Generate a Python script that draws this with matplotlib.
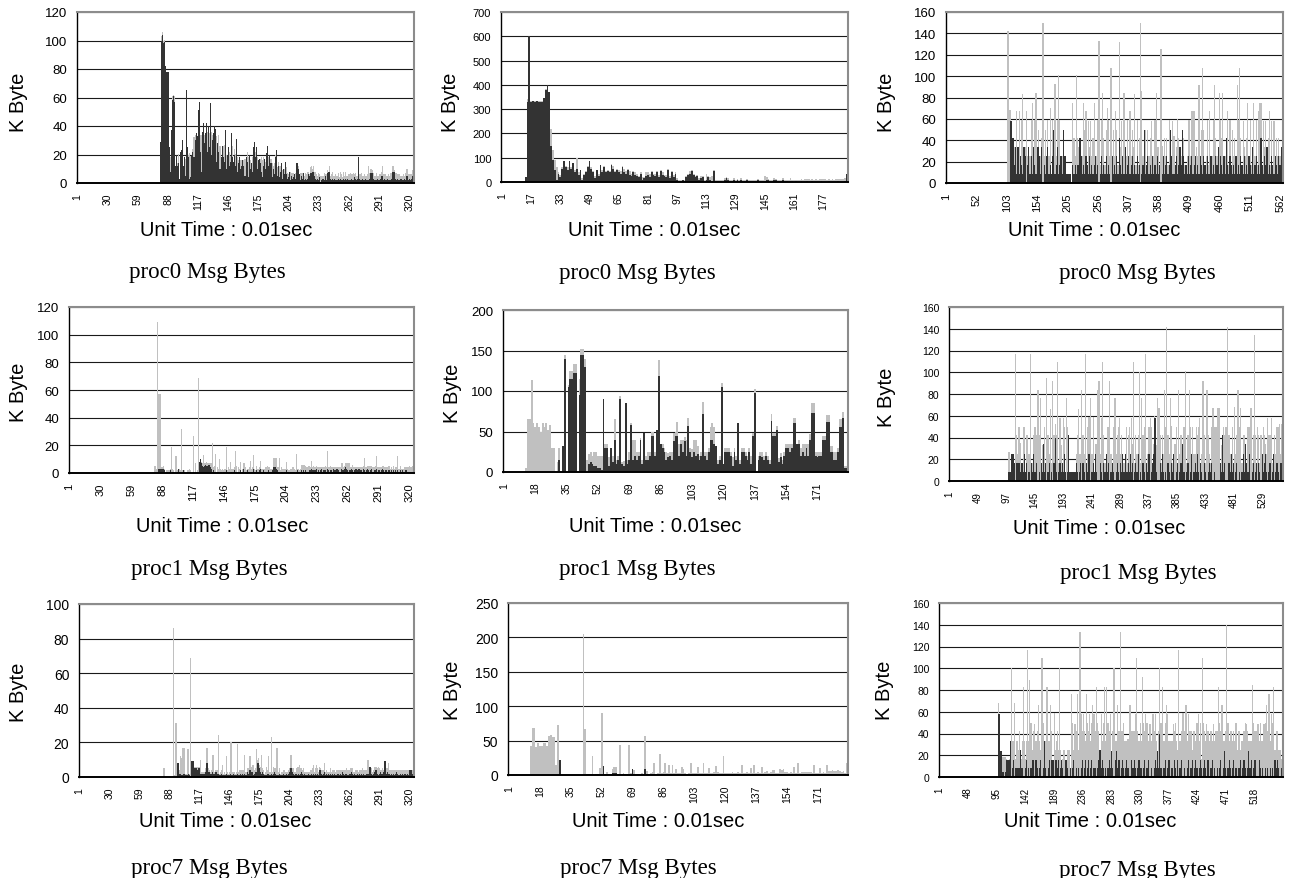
import matplotlib
matplotlib.use("Agg")
import matplotlib.pyplot as plt
import numpy as np

plt.rcParams["font.family"] = ["Liberation Sans", "DejaVu Sans"]

DARK = "#333333"
LIGHT = "#c0c0c0"

# Message bytes per 0.01 s slot.  Each run lists the first active slot and
# then the two stacked series from there on (everything before is zero).

# ---------------- proc0 ----------------
proc0_a_len, proc0_a_start = 324, 81
proc0_a_dark = [
    29, 100, 104, 98, 99, 82, 78, 78, 25, 8,
    37, 58, 61, 57, 12, 20, 12, 14, 3, 22,
    23, 30, 12, 18, 5, 65, 25, 18, 3, 4,
    20, 22, 18, 30, 35, 33, 51, 57, 22, 8,
    36, 42, 28, 35, 42, 22, 40, 25, 56, 20,
    30, 35, 40, 38, 15, 28, 22, 10, 18, 26,
    18, 15, 37, 10, 20, 25, 12, 15, 35, 18,
    15, 20, 12, 31, 8, 14, 18, 10, 12, 16,
    12, 5, 18, 15, 4, 20, 10, 14, 8, 25,
    29, 18, 25, 10, 16, 17, 14, 8, 4, 12,
    17, 10, 21, 26, 12, 20, 14, 4, 10, 6,
    18, 23, 5, 12, 4, 8, 14, 3, 10, 6,
    15, 6, 3, 4, 8, 2, 5, 3, 4, 6,
    3, 14, 10, 6, 2, 5, 3, 7, 2, 3,
    2, 3, 6, 5, 7, 7, 8, 8, 5, 3,
    2, 3, 2, 4, 1, 2, 3, 2, 5, 2,
    7, 8, 8, 3, 2, 3, 2, 3, 2, 2,
    2, 3, 2, 3, 2, 2, 3, 2, 3, 2,
    3, 2, 2, 3, 2, 2, 4, 3, 2, 3,
    18, 3, 2, 2, 3, 2, 2, 3, 2, 2,
    2, 3, 7, 7, 7, 3, 2, 2, 3, 2,
    2, 3, 5, 5, 2, 3, 2, 2, 3, 2,
    2, 2, 3, 8, 8, 8, 3, 2, 3, 2,
    2, 3, 2, 2, 3, 2, 5, 5, 2, 3,
    2, 3, 5, 5,
]
proc0_a_light = [
    0, 3, 2, 2, 1, 0, 0, 0, 0, 10,
    0, 3, 1, 4, 0, 0, 2, 6, 0, 0,
    0, 0, 0, 0, 12, 0, 0, 2, 18, 15,
    0, 2, 14, 4, 0, 0, 0, 0, 12, 26,
    0, 0, 6, 0, 0, 14, 0, 10, 0, 16,
    4, 0, 0, 0, 18, 0, 12, 16, 0, 0,
    8, 12, 0, 10, 0, 0, 10, 4, 0, 8,
    0, 4, 8, 0, 10, 2, 0, 6, 4, 0,
    4, 12, 0, 7, 14, 0, 6, 0, 10, 0,
    0, 4, 0, 8, 0, 0, 3, 10, 12, 6,
    0, 5, 0, 0, 6, 0, 3, 10, 2, 8,
    2, 0, 6, 3, 8, 4, 0, 6, 0, 4,
    0, 5, 4, 2, 0, 6, 2, 4, 3, 0,
    4, 0, 2, 0, 5, 2, 4, 0, 3, 4,
    4, 5, 2, 1, 4, 5, 2, 4, 3, 5,
    4, 2, 5, 2, 4, 3, 2, 5, 1, 4,
    2, 0, 4, 2, 4, 5, 3, 2, 4, 3,
    3, 4, 2, 5, 4, 2, 5, 3, 5, 3,
    2, 4, 5, 3, 4, 5, 2, 4, 3, 2,
    0, 3, 4, 5, 2, 3, 4, 2, 3, 4,
    10, 4, 3, 3, 2, 4, 3, 5, 2, 3,
    4, 3, 3, 7, 4, 3, 4, 3, 2, 4,
    3, 5, 4, 4, 4, 1, 4, 5, 3, 4,
    4, 2, 3, 4, 2, 5, 5, 5, 4, 3,
    4, 3, 4, 4,
]

proc0_b_len, proc0_b_start = 190, 14
proc0_b_dark = [
    20, 330, 600, 330, 335, 330, 335, 330, 330, 330,
    345, 380, 400, 370, 150, 90, 50, 10, 35, 20,
    55, 85, 60, 50, 85, 55, 78, 40, 55, 30,
    50, 10, 30, 40, 60, 85, 55, 40, 15, 50,
    25, 70, 40, 60, 40, 45, 40, 70, 55, 40,
    50, 40, 35, 60, 40, 35, 50, 30, 25, 40,
    30, 25, 20, 35, 10, 15, 25, 30, 20, 40,
    30, 25, 40, 20, 45, 30, 25, 20, 50, 15,
    40, 20, 35, 10, 5, 5, 8, 5, 20, 30,
    35, 45, 30, 20, 25, 10, 15, 20, 5, 10,
    20, 10, 5, 45, 5, 3, 5, 3, 2, 10,
    15, 10, 5, 5, 10, 5, 8, 5, 10, 5,
    5, 8, 5, 5, 3, 5, 3, 8, 5, 3,
    3, 5, 10, 8, 5, 5, 10, 8, 5, 3,
    5, 10, 3, 3, 2, 5, 3, 2, 3, 2,
    2, 3, 2, 2, 3, 2, 2, 3, 2, 2,
    2, 2, 3, 2, 2, 2, 3, 2, 2, 2,
    2, 3, 2, 2, 2, 3, 35,
]
proc0_b_light = [
    0, 10, 0, 5, 0, 5, 0, 5, 5, 5,
    0, 5, 0, 0, 70, 40, 40, 50, 5, 10,
    5, 0, 5, 10, 0, 5, 2, 10, 45, 10,
    0, 5, 5, 5, 5, 0, 5, 5, 10, 0,
    10, 0, 10, 5, 5, 5, 5, 5, 10, 5,
    5, 10, 10, 5, 15, 10, 5, 15, 10, 5,
    10, 10, 5, 5, 10, 5, 15, 10, 15, 5,
    5, 10, 5, 10, 5, 10, 5, 10, 5, 10,
    5, 10, 5, 5, 5, 5, 2, 5, 5, 5,
    10, 5, 5, 5, 5, 5, 10, 5, 5, 25,
    5, 10, 20, 5, 5, 5, 3, 5, 5, 5,
    5, 5, 5, 5, 5, 5, 5, 5, 5, 5,
    5, 5, 5, 5, 5, 5, 5, 5, 5, 5,
    5, 20, 10, 5, 5, 5, 5, 5, 5, 5,
    5, 5, 5, 5, 5, 10, 5, 5, 5, 5,
    8, 10, 8, 10, 8, 10, 8, 10, 8, 10,
    8, 10, 8, 10, 10, 8, 10, 8, 10, 8,
    10, 8, 10, 12, 10, 12, 0,
]

proc0_c_len, proc0_c_start = 566, 103
proc0_c_dark = [
    0, 0, 0, 0, 0, 58, 58, 58, 58, 42, 42, 42, 17, 17, 34, 34, 8, 8, 34, 34,
    8, 8, 25, 25, 17, 17, 8, 8, 34, 34, 25, 25, 0, 0, 17, 17, 34, 34, 8, 8,
    25, 25, 8, 8, 34, 34, 17, 17, 8, 8, 34, 34, 34, 34, 25, 25, 8, 8, 34, 34,
    0, 0, 17, 17, 8, 8, 25, 25, 34, 34, 8, 8, 17, 17, 8, 8, 25, 25, 50, 50,
    8, 8, 17, 17, 34, 34, 8, 8, 17, 17, 25, 25, 8, 8, 50, 50, 25, 25, 25, 25,
    8, 8, 8, 8, 8, 8, 8, 8, 0, 0, 17, 17, 8, 8, 17, 17, 8, 8, 17, 17,
    17, 17, 42, 42, 25, 25, 8, 8, 17, 17, 8, 8, 25, 25, 17, 17, 8, 8, 25, 25,
    8, 8, 17, 17, 8, 8, 17, 17, 25, 25, 8, 8, 17, 17, 0, 0, 8, 8, 25, 25,
    8, 8, 17, 17, 8, 8, 25, 25, 8, 8, 17, 17, 8, 8, 0, 0, 25, 25, 8, 8,
    17, 17, 8, 8, 25, 25, 8, 8, 42, 42, 17, 17, 8, 8, 25, 25, 8, 8, 34, 34,
    8, 8, 17, 17, 25, 25, 8, 8, 17, 17, 25, 25, 8, 8, 17, 17, 8, 8, 25, 25,
    8, 8, 17, 17, 0, 0, 8, 8, 17, 17, 50, 50, 8, 8, 17, 17, 25, 25, 8, 8,
    17, 17, 8, 8, 25, 25, 8, 8, 17, 17, 8, 8, 25, 25, 8, 8, 17, 17, 0, 0,
    8, 8, 25, 25, 8, 8, 17, 17, 25, 25, 8, 8, 17, 17, 50, 50, 25, 25, 8, 8,
    8, 8, 17, 17, 25, 25, 8, 8, 17, 17, 34, 34, 17, 17, 50, 50, 25, 25, 8, 8,
    17, 17, 8, 8, 25, 25, 8, 8, 17, 17, 25, 25, 8, 8, 17, 17, 25, 25, 8, 8,
    17, 17, 8, 8, 25, 25, 17, 17, 8, 8, 25, 25, 17, 17, 8, 8, 25, 25, 8, 8,
    8, 8, 25, 25, 8, 8, 17, 17, 8, 8, 25, 25, 17, 17, 34, 34, 8, 8, 25, 25,
    17, 17, 8, 8, 25, 25, 8, 8, 42, 42, 17, 17, 8, 8, 25, 25, 17, 17, 8, 8,
    17, 17, 8, 8, 25, 25, 8, 8, 17, 17, 8, 8, 25, 25, 17, 17, 8, 8, 25, 25,
    8, 8, 17, 17, 8, 8, 25, 25, 17, 17, 8, 8, 34, 34, 8, 8, 17, 17, 25, 25,
    8, 8, 17, 17, 8, 8, 42, 42, 17, 17, 8, 8, 25, 25, 17, 17, 34, 34, 8, 8,
    17, 17, 8, 8, 25, 25, 17, 17, 8, 8, 25, 25, 17, 17, 8, 8, 25, 25, 17, 17,
    34, 34, 25, 25,
]
proc0_c_light = [
    142, 142, 142, 142, 68, 10, 10, 0, 0, 0, 0, 0, 17, 17, 0, 0, 59, 59, 0, 0,
    59, 59, 0, 0, 42, 42, 75, 75, 0, 0, 9, 9, 67, 67, 8, 8, 0, 0, 17, 17,
    34, 34, 67, 67, 0, 0, 42, 42, 76, 76, 0, 0, 16, 16, 0, 0, 17, 17, 8, 8,
    150, 150, 8, 8, 42, 42, 0, 0, 25, 25, 17, 17, 53, 53, 0, 0, 34, 34, 0, 0,
    85, 85, 8, 8, 25, 25, 93, 93, 42, 42, 0, 0, 17, 17, 0, 0, 0, 0, 0, 0,
    0, 0, 0, 0, 0, 0, 0, 0, 0, 0, 58, 58, 34, 34, 8, 8, 93, 93, 25, 25,
    17, 17, 0, 0, 0, 0, 17, 17, 58, 58, 42, 42, 42, 42, 0, 0, 50, 50, 9, 9,
    50, 50, 8, 8, 34, 34, 58, 58, 0, 0, 17, 17, 42, 42, 133, 133, 9, 9, 34, 34,
    76, 76, 25, 25, 9, 9, 25, 25, 62, 62, 42, 42, 17, 17, 108, 108, 0, 0, 42, 42,
    8, 8, 59, 59, 25, 25, 9, 9, 90, 90, 17, 17, 50, 50, 0, 0, 76, 76, 0, 0,
    17, 17, 42, 42, 0, 0, 59, 59, 8, 8, 25, 25, 26, 26, 66, 66, 9, 9, 34, 34,
    9, 9, 25, 25, 150, 150, 78, 78, 8, 8, 0, 0, 42, 42, 0, 0, 25, 25, 17, 17,
    25, 25, 50, 50, 0, 0, 17, 17, 42, 42, 76, 76, 9, 9, 26, 26, 0, 0, 125, 125,
    27, 27, 0, 0, 34, 34, 8, 8, 17, 17, 9, 9, 42, 42, 0, 0, 0, 0, 50, 50,
    36, 36, 0, 0, 9, 9, 52, 52, 25, 25, 0, 0, 8, 8, 0, 0, 17, 17, 9, 9,
    0, 0, 17, 17, 34, 34, 51, 51, 8, 8, 42, 42, 59, 59, 50, 50, 0, 0, 26, 26,
    8, 8, 84, 84, 0, 0, 33, 33, 100, 100, 25, 25, 0, 0, 17, 17, 34, 34, 9, 9,
    59, 59, 0, 0, 17, 17, 42, 42, 84, 84, 17, 17, 8, 8, 0, 0, 76, 76, 34, 34,
    25, 25, 76, 76, 0, 0, 17, 17, 0, 0, 50, 50, 9, 9, 34, 34, 0, 0, 42, 42,
    8, 8, 34, 34, 0, 0, 84, 84, 42, 42, 100, 100, 17, 17, 0, 0, 50, 50, 9, 9,
    17, 17, 25, 25, 67, 67, 0, 0, 42, 42, 9, 9, 0, 0, 67, 67, 8, 8, 34, 34,
    9, 9, 50, 50, 67, 67, 33, 33, 0, 0, 50, 50, 9, 9, 41, 41, 0, 0, 34, 34,
    50, 50, 9, 9, 33, 33, 0, 0, 50, 50, 0, 0, 25, 25, 17, 17, 17, 17, 8, 8,
    0, 0, 25, 25,
]

# ---------------- proc1 ----------------
proc1_a_len, proc1_a_start = 324, 81
proc1_a_dark = [
    0, 0, 0, 0, 3, 3, 3, 3, 3, 2,
    0, 1, 1, 0, 1, 2, 0, 1, 1, 0,
    0, 1, 3, 1, 1, 0, 1, 2, 1, 0,
    0, 1, 1, 1, 1, 0, 1, 0, 1, 0,
    1, 0, 8, 10, 7, 5, 4, 5, 6, 5,
    5, 6, 4, 3, 1, 2, 1, 1, 0, 1,
    1, 0, 1, 1, 0, 1, 1, 2, 1, 0,
    1, 0, 1, 0, 1, 2, 1, 1, 0, 1,
    1, 2, 1, 3, 0, 1, 0, 2, 1, 1,
    0, 1, 1, 3, 1, 1, 2, 1, 2, 3,
    1, 0, 2, 1, 1, 0, 1, 2, 1, 1,
    1, 2, 4, 4, 3, 2, 1, 1, 0, 1,
    1, 0, 1, 1, 2, 1, 1, 0, 1, 1,
    1, 1, 0, 1, 2, 1, 1, 1, 2, 1,
    2, 1, 2, 1, 1, 2, 2, 3, 2, 2,
    2, 2, 3, 1, 2, 1, 2, 3, 1, 2,
    2, 1, 3, 2, 1, 2, 2, 1, 3, 2,
    2, 3, 3, 2, 1, 3, 2, 2, 3, 4,
    3, 2, 1, 2, 2, 3, 2, 1, 2, 3,
    2, 3, 3, 2, 2, 1, 3, 2, 1, 2,
    3, 2, 1, 2, 3, 1, 2, 2, 3, 1,
    2, 2, 1, 2, 3, 2, 1, 2, 2, 1,
    2, 1, 2, 1, 2, 1, 2, 1, 2, 1,
    1, 2, 1, 2, 1, 1, 2, 1, 1, 1,
    1, 1, 1, 1,
]
proc1_a_light = [
    5, 5, 3, 109, 54, 54, 1, 1, 2, 1,
    1, 1, 1, 2, 1, 1, 19, 2, 1, 1,
    12, 1, 0, 2, 1, 32, 1, 0, 1, 1,
    1, 1, 1, 2, 1, 1, 26, 1, 6, 1,
    1, 69, 0, 0, 1, 2, 9, 2, 1, 3,
    2, 1, 3, 4, 21, 2, 4, 13, 1, 3,
    2, 10, 2, 1, 3, 1, 2, 17, 1, 4,
    2, 8, 2, 3, 2, 2, 15, 4, 1, 3,
    2, 6, 2, 4, 7, 3, 2, 1, 2, 3,
    9, 2, 3, 10, 2, 1, 3, 2, 2, 6,
    2, 3, 1, 2, 3, 4, 4, 2, 3, 2,
    2, 1, 7, 7, 8, 2, 3, 10, 2, 3,
    2, 3, 2, 2, 6, 2, 1, 2, 2, 3,
    3, 2, 2, 13, 1, 2, 1, 2, 4, 5,
    4, 5, 3, 3, 4, 3, 2, 6, 2, 3,
    2, 2, 2, 3, 2, 3, 2, 1, 3, 2,
    3, 3, 13, 2, 3, 3, 2, 3, 1, 2,
    2, 1, 1, 2, 3, 4, 5, 2, 2, 3,
    4, 5, 6, 5, 2, 1, 4, 3, 2, 1,
    2, 1, 1, 2, 2, 3, 2, 9, 3, 2,
    2, 3, 4, 3, 2, 3, 2, 3, 9, 3,
    2, 2, 3, 2, 2, 3, 3, 2, 2, 3,
    3, 2, 2, 2, 3, 2, 2, 3, 10, 2,
    2, 3, 2, 1, 2, 3, 2, 3, 3, 4,
    3, 3, 4, 4,
]

proc1_b_len, proc1_b_start = 187, 13
proc1_b_dark = [
    0, 0, 0, 0, 0, 0, 0, 0, 0, 0,
    0, 0, 0, 0, 0, 0, 0, 0, 15, 0,
    32, 140, 0, 105, 115, 115, 122, 122, 0, 95,
    145, 145, 130, 0, 10, 12, 10, 8, 8, 5,
    5, 3, 90, 30, 30, 8, 30, 12, 40, 10,
    15, 90, 10, 8, 85, 10, 15, 58, 15, 20,
    15, 20, 40, 10, 48, 15, 15, 20, 45, 45,
    20, 52, 118, 35, 30, 25, 15, 18, 20, 15,
    38, 45, 45, 20, 35, 25, 38, 20, 57, 25,
    18, 25, 20, 22, 15, 20, 72, 20, 15, 25,
    40, 40, 35, 32, 10, 15, 105, 10, 25, 25,
    25, 20, 8, 25, 15, 60, 10, 25, 25, 20,
    15, 25, 10, 45, 97, 0, 15, 20, 18, 15,
    20, 15, 10, 63, 45, 45, 52, 12, 18, 10,
    20, 30, 30, 25, 30, 60, 60, 35, 35, 20,
    25, 20, 30, 20, 40, 73, 73, 20, 18, 20,
    20, 40, 40, 62, 62, 25, 25, 15, 15, 25,
    55, 55, 67, 5, 5,
]
proc1_b_light = [
    5, 66, 66, 113, 60, 55, 60, 55, 50, 60,
    55, 60, 52, 58, 30, 30, 0, 12, 15, 0,
    0, 5, 0, 3, 10, 10, 11, 11, 0, 20,
    7, 7, 10, 15, 12, 13, 10, 17, 17, 15,
    15, 17, 0, 5, 5, 10, 0, 8, 25, 5,
    5, 4, 2, 5, 0, 5, 10, 2, 25, 20,
    10, 5, 2, 5, 0, 5, 10, 5, 5, 5,
    5, 0, 20, 0, 5, 5, 10, 5, 5, 10,
    10, 5, 17, 15, 5, 15, 5, 20, 10, 5,
    10, 15, 20, 10, 5, 5, 14, 5, 10, 5,
    15, 20, 20, 0, 5, 5, 5, 0, 5, 5,
    5, 5, 10, 5, 5, 0, 5, 5, 5, 5,
    5, 5, 10, 3, 6, 0, 5, 5, 7, 5,
    5, 5, 5, 8, 3, 3, 5, 5, 5, 5,
    5, 5, 5, 10, 5, 7, 7, 0, 5, 10,
    10, 15, 5, 15, 7, 12, 12, 5, 7, 5,
    5, 5, 5, 8, 8, 7, 7, 10, 10, 5,
    10, 10, 7, 3, 3,
]

proc1_c_len, proc1_c_start = 563, 101
proc1_c_dark = [
    8, 8, 8, 8, 25, 25, 25, 25, 25, 17, 17, 0, 0, 17, 17, 17, 17, 17, 17, 8,
    8, 8, 17, 17, 8, 8, 25, 25, 8, 8, 17, 17, 0, 0, 8, 8, 17, 0, 0, 17,
    8, 8, 25, 25, 8, 8, 17, 17, 8, 0, 0, 8, 8, 0, 0, 17, 17, 8, 34, 34,
    8, 8, 17, 17, 0, 0, 8, 8, 17, 17, 0, 0, 8, 8, 0, 0, 17, 17, 40, 40,
    8, 8, 0, 0, 8, 8, 17, 17, 8, 8, 17, 17, 8, 8, 25, 25, 8, 0, 0, 8,
    42, 42, 17, 8, 8, 8, 8, 8, 8, 8, 8, 8, 8, 8, 17, 17, 8, 0, 0, 8,
    17, 17, 8, 0, 0, 17, 17, 8, 8, 0, 0, 17, 17, 8, 8, 25, 25, 0, 0, 17,
    8, 8, 17, 17, 8, 8, 25, 25, 8, 0, 0, 8, 0, 0, 17, 17, 8, 8, 0, 0,
    17, 17, 8, 8, 25, 25, 8, 8, 17, 17, 0, 0, 8, 8, 17, 17, 8, 8, 0, 0,
    0, 8, 8, 17, 17, 8, 0, 0, 17, 17, 8, 8, 25, 25, 8, 8, 17, 25, 25, 8,
    8, 17, 17, 8, 8, 25, 25, 8, 8, 17, 0, 0, 8, 8, 17, 17, 8, 8, 25, 25,
    0, 0, 8, 8, 0, 0, 17, 17, 8, 8, 0, 0, 17, 17, 8, 8, 25, 25, 0, 0,
    8, 8, 17, 17, 25, 58, 58, 58, 58, 8, 0, 0, 8, 0, 0, 17, 17, 8, 8, 25,
    8, 8, 0, 0, 8, 0, 0, 0, 17, 17, 8, 8, 0, 0, 17, 17, 8, 8, 25, 25,
    0, 0, 8, 8, 17, 17, 0, 0, 8, 8, 17, 17, 8, 34, 34, 8, 8, 0, 0, 17,
    8, 8, 17, 17, 0, 0, 8, 8, 25, 25, 0, 0, 8, 8, 17, 17, 8, 8, 25, 25,
    8, 0, 0, 17, 17, 8, 8, 0, 0, 17, 17, 8, 8, 25, 0, 0, 8, 8, 17, 17,
    8, 8, 17, 17, 0, 0, 8, 8, 17, 0, 0, 8, 0, 0, 0, 0, 17, 17, 8, 8,
    42, 42, 8, 8, 17, 17, 0, 0, 8, 0, 0, 17, 17, 8, 8, 25, 25, 8, 8, 17,
    0, 0, 8, 8, 17, 17, 0, 0, 8, 8, 17, 0, 0, 8, 8, 25, 25, 8, 8, 34,
    34, 17, 17, 8, 8, 25, 25, 8, 0, 0, 8, 8, 17, 17, 0, 0, 8, 8, 17, 0,
    0, 17, 17, 8, 8, 0, 0, 25, 25, 8, 8, 17, 17, 25, 25, 8, 0, 0, 8, 8,
    17, 17, 0, 0, 8, 8, 25, 25, 0, 0, 8, 8, 17, 17, 8, 8, 0, 0, 17, 17,
    17, 17, 8,
]
proc1_c_light = [
    19, 19, 0, 0, 0, 0, 0, 0, 0, 0, 0, 117, 117, 25, 25, 8, 8, 33, 33, 34,
    27, 27, 0, 0, 42, 42, 25, 25, 0, 0, 25, 25, 42, 42, 17, 17, 34, 117, 117, 0,
    9, 9, 17, 17, 42, 42, 25, 25, 17, 84, 84, 34, 34, 76, 76, 0, 0, 25, 0, 0,
    42, 42, 0, 0, 95, 95, 34, 34, 8, 8, 66, 66, 9, 9, 92, 92, 25, 25, 12, 12,
    34, 34, 109, 109, 9, 9, 41, 41, 25, 25, 0, 0, 50, 50, 25, 25, 0, 76, 76, 42,
    0, 0, 0, 0, 0, 0, 0, 0, 0, 0, 0, 0, 0, 0, 8, 8, 34, 66, 66, 17,
    8, 8, 42, 84, 84, 25, 25, 17, 17, 117, 117, 0, 0, 42, 42, 34, 34, 76, 76, 25,
    17, 17, 42, 42, 0, 0, 9, 9, 26, 84, 84, 17, 92, 92, 8, 8, 50, 50, 109, 109,
    25, 25, 9, 9, 0, 0, 42, 42, 33, 33, 92, 92, 17, 17, 0, 0, 42, 42, 76, 76,
    76, 17, 17, 25, 25, 42, 58, 58, 8, 8, 34, 34, 0, 0, 9, 9, 25, 0, 0, 42,
    9, 25, 25, 42, 42, 0, 0, 50, 50, 17, 109, 109, 9, 9, 25, 25, 17, 17, 17, 17,
    100, 100, 9, 9, 76, 76, 25, 25, 42, 42, 117, 117, 0, 0, 17, 17, 25, 25, 58, 58,
    42, 42, 0, 0, 9, 2, 2, 0, 0, 25, 76, 76, 9, 67, 67, 25, 25, 9, 9, 17,
    17, 17, 84, 84, 42, 142, 142, 92, 25, 25, 17, 17, 76, 76, 34, 34, 9, 9, 0, 0,
    34, 34, 42, 42, 0, 0, 84, 84, 17, 17, 25, 25, 9, 0, 0, 42, 42, 101, 101, 25,
    9, 9, 25, 25, 84, 84, 42, 42, 0, 0, 50, 50, 17, 17, 8, 8, 42, 42, 17, 17,
    42, 58, 58, 0, 0, 17, 17, 92, 92, 25, 25, 9, 9, 25, 84, 84, 34, 34, 8, 8,
    9, 9, 33, 33, 67, 67, 42, 42, 8, 50, 50, 17, 67, 67, 67, 67, 0, 0, 25, 25,
    0, 0, 42, 42, 25, 25, 50, 50, 9, 142, 142, 25, 25, 17, 17, 0, 0, 42, 42, 0,
    68, 68, 17, 17, 25, 25, 84, 84, 42, 42, 0, 67, 67, 9, 9, 17, 17, 34, 34, 0,
    0, 0, 0, 42, 42, 25, 25, 17, 67, 67, 9, 9, 25, 25, 134, 134, 34, 34, 0, 50,
    50, 25, 25, 9, 9, 42, 42, 0, 0, 42, 42, 25, 25, 9, 9, 17, 58, 58, 34, 34,
    25, 25, 58, 58, 9, 9, 0, 0, 42, 42, 17, 17, 33, 33, 42, 42, 52, 52, 8, 8,
    35, 35, 70,
]

# ---------------- proc7 ----------------
proc7_a_len, proc7_a_start = 324, 81
proc7_a_dark = [
    0, 0, 0, 0, 0, 0, 0, 0, 0, 0,
    0, 0, 0, 0, 0, 8, 8, 2, 2, 1,
    1, 2, 2, 1, 1, 2, 1, 0, 9, 9,
    9, 5, 5, 5, 4, 5, 5, 2, 2, 2,
    2, 2, 3, 8, 8, 3, 3, 2, 2, 3,
    2, 2, 3, 2, 2, 1, 1, 2, 1, 1,
    1, 1, 2, 1, 1, 1, 2, 1, 1, 2,
    1, 1, 1, 2, 1, 1, 2, 1, 2, 1,
    2, 1, 3, 2, 4, 4, 3, 3, 1, 2,
    3, 3, 8, 8, 5, 3, 2, 3, 2, 1,
    1, 1, 2, 2, 1, 1, 2, 1, 2, 3,
    2, 1, 1, 2, 1, 1, 1, 2, 1, 1,
    2, 1, 2, 3, 5, 5, 3, 2, 1, 2,
    2, 1, 2, 1, 2, 3, 2, 1, 2, 1,
    1, 2, 1, 1, 2, 1, 2, 1, 2, 1,
    2, 1, 4, 4, 2, 1, 2, 3, 1, 2,
    1, 2, 1, 2, 1, 2, 1, 2, 1, 1,
    2, 1, 2, 1, 3, 2, 1, 2, 2, 1,
    1, 2, 2, 3, 2, 1, 2, 1, 1, 2,
    1, 2, 1, 2, 1, 2, 1, 1, 2, 2,
    6, 6, 2, 1, 2, 3, 4, 4, 2, 1,
    2, 3, 2, 2, 3, 9, 9, 2, 3, 2,
    2, 1, 2, 1, 2, 1, 2, 3, 2, 1,
    2, 1, 2, 1, 2, 2, 1, 2, 1, 4,
    4, 4, 2, 2,
]
proc7_a_light = [
    0, 5, 5, 0, 0, 0, 0, 0, 0, 0,
    0, 86, 1, 31, 31, 0, 0, 2, 10, 10,
    16, 15, 15, 1, 15, 14, 1, 69, 0, 0,
    0, 1, 1, 1, 2, 1, 1, 8, 1, 1,
    1, 1, 2, 9, 9, 2, 1, 1, 2, 10,
    11, 1, 1, 2, 22, 1, 2, 2, 6, 1,
    2, 1, 10, 2, 1, 2, 18, 19, 2, 1,
    2, 1, 2, 17, 2, 3, 2, 3, 2, 3,
    11, 2, 2, 3, 8, 8, 3, 4, 6, 2,
    2, 13, 2, 3, 2, 3, 11, 2, 2, 1,
    2, 5, 2, 10, 2, 2, 21, 2, 4, 2,
    3, 16, 2, 3, 1, 2, 2, 2, 3, 2,
    1, 2, 2, 2, 8, 8, 2, 3, 2, 1,
    3, 5, 4, 6, 3, 2, 2, 4, 1, 2,
    2, 1, 2, 3, 2, 4, 5, 2, 3, 6,
    3, 2, 2, 1, 2, 3, 2, 5, 2, 2,
    2, 1, 2, 3, 2, 2, 3, 2, 2, 3,
    2, 3, 2, 3, 1, 2, 3, 2, 3, 3,
    3, 2, 3, 2, 3, 2, 1, 3, 3, 2,
    2, 2, 3, 2, 4, 2, 3, 3, 2, 8,
    0, 0, 3, 2, 2, 3, 2, 2, 3, 5,
    3, 1, 2, 3, 1, 0, 0, 3, 2, 6,
    2, 3, 2, 3, 2, 3, 2, 1, 2, 3,
    2, 3, 2, 3, 2, 2, 3, 2, 3, 0,
    0, 0, 2, 2,
]

proc7_b_len, proc7_b_start = 187, 13
proc7_b_dark = [
    0, 0, 0, 0, 0, 0, 0, 0, 0, 0,
    0, 0, 0, 0, 0, 0, 22, 0, 0, 0,
    0, 0, 0, 0, 0, 0, 0, 0, 0, 0,
    0, 2, 1, 1, 1, 0, 1, 1, 0, 0,
    13, 1, 1, 1, 1, 3, 3, 3, 1, 1,
    1, 2, 1, 1, 1, 1, 8, 1, 1, 1,
    1, 1, 1, 8, 1, 1, 1, 1, 2, 1,
    1, 1, 1, 1, 1, 1, 1, 1, 1, 1,
    1, 1, 1, 1, 1, 1, 1, 1, 1, 2,
    1, 1, 1, 1, 1, 1, 1, 1, 1, 1,
    1, 1, 1, 1, 1, 1, 1, 1, 1, 1,
    1, 1, 1, 1, 1, 1, 1, 1, 1, 1,
    1, 1, 1, 1, 1, 1, 1, 1, 1, 1,
    1, 1, 1, 1, 1, 1, 1, 1, 2, 1,
    1, 2, 1, 1, 1, 1, 1, 1, 1, 1,
    1, 1, 1, 1, 1, 1, 1, 1, 1, 1,
    1, 1, 1, 1, 1, 1, 1, 1, 1, 1,
    1, 1, 1, 1, 1,
]
proc7_b_light = [
    42, 68, 68, 40, 47, 42, 42, 47, 47, 42,
    56, 58, 55, 55, 15, 73, 0, 0, 0, 0,
    0, 0, 0, 0, 0, 0, 0, 0, 0, 205,
    67, 0, 1, 1, 27, 1, 1, 1, 10, 90,
    0, 1, 3, 1, 1, 6, 9, 9, 1, 43,
    1, 1, 1, 1, 42, 2, 0, 6, 1, 1,
    1, 2, 1, 48, 5, 1, 2, 3, 15, 1,
    2, 29, 2, 3, 16, 2, 14, 2, 14, 2,
    7, 2, 2, 10, 8, 2, 1, 2, 16, 1,
    2, 2, 11, 2, 2, 16, 2, 2, 9, 2,
    2, 3, 12, 4, 2, 2, 26, 2, 2, 2,
    2, 4, 2, 2, 3, 2, 13, 2, 2, 3,
    2, 9, 2, 14, 2, 3, 2, 11, 2, 3,
    5, 2, 3, 6, 6, 2, 2, 7, 5, 7,
    4, 2, 2, 3, 2, 11, 2, 16, 2, 4,
    4, 4, 3, 4, 4, 2, 14, 2, 2, 9,
    2, 3, 2, 13, 5, 5, 6, 5, 5, 6,
    5, 4, 5, 2, 16,
]

proc7_c_len, proc7_c_start = 564, 97
proc7_c_dark = [
    58, 58, 58, 58, 24, 24, 24, 24, 5, 5, 5, 0, 5, 5, 16, 16, 16, 16, 0, 16,
    33, 33, 0, 0, 8, 8, 16, 0, 0, 8, 8, 8, 8, 8, 8, 8, 25, 25, 8, 8,
    8, 0, 0, 8, 0, 8, 16, 16, 0, 0, 8, 8, 0, 0, 8, 8, 16, 16, 16, 16,
    0, 0, 16, 16, 8, 8, 0, 0, 8, 8, 16, 16, 0, 0, 8, 8, 33, 33, 8, 8,
    0, 0, 8, 8, 16, 16, 0, 0, 16, 16, 16, 16, 0, 0, 16, 16, 16, 8, 8, 16,
    0, 0, 8, 8, 16, 16, 8, 8, 0, 0, 16, 16, 16, 16, 8, 8, 0, 0, 8, 8,
    0, 0, 8, 8, 16, 16, 0, 0, 8, 8, 0, 0, 8, 8, 0, 0, 8, 8, 16, 16,
    0, 0, 8, 8, 16, 0, 0, 8, 8, 16, 0, 0, 8, 8, 16, 0, 0, 8, 8, 16,
    8, 0, 0, 8, 16, 16, 8, 25, 25, 8, 8, 16, 16, 8, 0, 0, 8, 8, 0, 0,
    8, 8, 16, 16, 8, 8, 24, 24, 8, 8, 0, 0, 16, 16, 24, 24, 8, 8, 16, 16,
    0, 0, 8, 8, 16, 16, 8, 8, 0, 8, 8, 16, 16, 8, 8, 8, 0, 0, 16, 16,
    8, 8, 8, 16, 16, 8, 8, 0, 0, 8, 16, 16, 16, 8, 8, 8, 8, 0, 0, 8,
    16, 16, 0, 0, 8, 8, 16, 16, 8, 0, 0, 8, 8, 16, 0, 0, 8, 8, 16, 16,
    8, 24, 24, 8, 40, 40, 0, 8, 8, 16, 0, 0, 8, 8, 16, 16, 0, 0, 8, 8,
    16, 16, 8, 0, 0, 8, 8, 0, 0, 16, 16, 8, 8, 0, 0, 16, 0, 0, 8, 8,
    16, 16, 8, 0, 0, 8, 8, 16, 0, 0, 8, 8, 16, 16, 0, 0, 8, 8, 16, 16,
    0, 0, 8, 8, 16, 16, 8, 8, 0, 0, 8, 8, 16, 16, 8, 0, 0, 8, 8, 16,
    8, 8, 0, 0, 16, 16, 8, 0, 0, 8, 8, 16, 16, 0, 0, 8, 8, 0, 0, 8,
    8, 0, 0, 8, 8, 16, 16, 0, 0, 8, 8, 24, 24, 8, 8, 0, 0, 8, 8, 16,
    16, 8, 0, 0, 8, 8, 16, 16, 0, 0, 8, 8, 16, 0, 0, 8, 8, 16, 16, 0,
    0, 8, 8, 16, 16, 8, 8, 0, 0, 8, 8, 24, 24, 8, 8, 16, 16, 0, 0, 8,
    8, 16, 16, 0, 0, 8, 0, 0, 8, 16, 16, 8, 0, 0, 8, 16, 0, 0, 8, 8,
    0, 0, 8, 8, 0, 0, 8, 8, 0, 0, 8, 8, 0, 0, 16, 16, 8, 8, 16, 16,
    8, 8, 0, 0, 8, 8, 4, 4,
]
proc7_c_light = [
    10, 10, 0, 0, 0, 0, 0, 0, 13, 13, 0, 18, 13, 13, 1, 1, 0, 0, 17, 1,
    0, 0, 100, 100, 25, 25, 17, 68, 68, 9, 9, 25, 25, 17, 17, 34, 0, 0, 9, 9,
    25, 83, 83, 34, 33, 9, 17, 17, 117, 117, 25, 25, 89, 89, 42, 42, 9, 9, 26, 26,
    49, 49, 17, 17, 34, 34, 66, 66, 25, 25, 9, 9, 109, 109, 42, 42, 0, 0, 25, 25,
    83, 83, 25, 25, 17, 17, 66, 66, 26, 26, 0, 0, 59, 59, 9, 9, 17, 34, 34, 9,
    100, 100, 17, 17, 0, 0, 9, 9, 25, 25, 0, 0, 0, 0, 17, 17, 25, 25, 0, 0,
    76, 76, 42, 42, 9, 9, 49, 49, 34, 34, 76, 76, 17, 17, 133, 133, 50, 50, 26, 26,
    58, 58, 34, 34, 17, 76, 76, 42, 42, 26, 58, 58, 25, 25, 34, 66, 66, 50, 50, 9,
    34, 83, 83, 42, 26, 26, 34, 0, 0, 50, 50, 17, 17, 42, 83, 83, 25, 25, 83, 83,
    42, 42, 26, 26, 50, 50, 0, 0, 34, 34, 100, 100, 17, 17, 9, 9, 58, 58, 26, 26,
    133, 133, 34, 34, 26, 26, 42, 42, 33, 25, 25, 17, 17, 27, 27, 50, 66, 66, 26, 26,
    25, 34, 34, 26, 26, 50, 50, 109, 109, 34, 0, 17, 17, 42, 42, 25, 25, 92, 92, 42,
    26, 26, 58, 58, 42, 42, 17, 17, 34, 49, 49, 25, 25, 34, 58, 58, 34, 34, 42, 42,
    25, 0, 0, 34, 0, 60, 100, 42, 42, 17, 83, 83, 25, 25, 34, 34, 66, 66, 50, 50,
    17, 17, 34, 33, 33, 25, 25, 49, 49, 26, 26, 42, 42, 33, 33, 9, 117, 117, 25, 25,
    26, 26, 42, 59, 59, 34, 34, 17, 66, 66, 25, 25, 42, 42, 42, 42, 34, 34, 9, 9,
    42, 42, 34, 34, 17, 17, 42, 42, 58, 58, 25, 25, 34, 34, 9, 109, 109, 42, 42, 26,
    25, 25, 49, 49, 26, 26, 42, 33, 33, 34, 34, 17, 17, 49, 49, 25, 25, 42, 42, 34,
    34, 83, 83, 42, 42, 26, 26, 66, 66, 25, 25, 9, 9, 34, 34, 140, 140, 42, 42, 17,
    17, 34, 42, 42, 25, 25, 26, 26, 33, 33, 42, 42, 17, 25, 25, 34, 34, 9, 9, 33,
    33, 25, 25, 26, 26, 42, 42, 49, 49, 34, 34, 9, 9, 25, 25, 17, 17, 85, 85, 42,
    34, 26, 26, 42, 42, 25, 49, 49, 34, 17, 17, 42, 33, 33, 25, 34, 49, 49, 42, 42,
    66, 66, 34, 34, 76, 76, 25, 25, 58, 58, 42, 42, 83, 83, 9, 9, 34, 34, 26, 26,
    17, 17, 25, 25, 9, 9, 13, 13,
]

# axis ranges and category-label spacing for each run
runs = [
    ("proc0", proc0_a_len, proc0_a_start, proc0_a_dark, proc0_a_light, 120, 20, 29),
    ("proc0", proc0_b_len, proc0_b_start, proc0_b_dark, proc0_b_light, 700, 100, 16),
    ("proc0", proc0_c_len, proc0_c_start, proc0_c_dark, proc0_c_light, 160, 20, 51),
    ("proc1", proc1_a_len, proc1_a_start, proc1_a_dark, proc1_a_light, 120, 20, 29),
    ("proc1", proc1_b_len, proc1_b_start, proc1_b_dark, proc1_b_light, 200, 50, 17),
    ("proc1", proc1_c_len, proc1_c_start, proc1_c_dark, proc1_c_light, 160, 20, 48),
    ("proc7", proc7_a_len, proc7_a_start, proc7_a_dark, proc7_a_light, 100, 20, 29),
    ("proc7", proc7_b_len, proc7_b_start, proc7_b_dark, proc7_b_light, 250, 50, 17),
    ("proc7", proc7_c_len, proc7_c_start, proc7_c_dark, proc7_c_light, 160, 20, 47),
]

# pixel boxes (left, top, right, bottom), tick font sizes, label centres
W, H = 1292, 879
layout = [
    ((77, 13, 414, 184), 9.5, 7.5, (19, 102), (226, 231), (207, 273)),
    ((501, 13, 848, 183), 8.0, 7.5, (451, 102), (654, 231), (637, 274)),
    ((946, 13, 1283, 184), 9.5, 8.0, (886, 102), (1094, 231), (1137, 274)),
    ((69, 308, 414, 474), 9.5, 8.0, (18, 392), (222, 527), (209, 570)),
    ((503, 311, 848, 473), 9.5, 7.5, (452, 393), (655, 527), (637, 570)),
    ((949, 308, 1283, 482), 7.5, 7.0, (886, 397), (1099, 528), (1138, 573)),
    ((79, 605, 414, 778), 10.0, 7.5, (18, 692), (225, 822), (209, 869)),
    ((508, 604, 848, 776), 10.0, 7.5, (452, 690), (658, 822), (638, 869)),
    ((939, 604, 1283, 778), 7.5, 7.0, (885, 690), (1090, 822), (1137, 871)),
]


def series(n, start, values):
    out = np.zeros(n)
    vals = np.asarray(values, dtype=float)[: n - start + 1]
    out[start - 1:start - 1 + len(vals)] = vals
    return out


fig = plt.figure(figsize=(W / 100, H / 100), dpi=100)

for (proc, n, start, dark, light, ymax, ystep, xstep), lay in zip(runs, layout):
    (l, t, r, b), yfs, xfs, ylab, xlab, ttl = lay
    ax = fig.add_axes([l / W, 1 - b / H, (r - l) / W, (b - t) / H])
    x = np.arange(1, n + 1)
    d = series(n, start, dark)
    g = series(n, start, light)
    ax.bar(x, d, width=1.0, color=DARK, linewidth=0, antialiased=False, zorder=2)
    ax.bar(x, g, bottom=d, width=1.0, color=LIGHT, linewidth=0, antialiased=False, zorder=2)

    ax.set_xlim(0.5, n + 0.5)
    ax.set_ylim(0, ymax)
    ax.set_yticks(np.arange(0, ymax + 1, ystep))
    ax.set_xticks(np.arange(1, n + 1, xstep))
    ax.tick_params(axis="x", length=0, pad=7, labelsize=xfs, labelrotation=90)
    ax.tick_params(axis="y", length=0, pad=7, labelsize=yfs)
    ax.grid(axis="y", color="#1a1a1a", linewidth=0.8)
    ax.set_axisbelow(True)

    for side in ("top", "right"):
        ax.spines[side].set_color("#8c8c8c")
        ax.spines[side].set_linewidth(1.5)
    ax.spines["left"].set_color("black")
    ax.spines["left"].set_linewidth(1.0)
    ax.spines["bottom"].set_color("black")
    ax.spines["bottom"].set_linewidth(1.4)

    fig.text(ylab[0] / W, 1 - ylab[1] / H, "K Byte", rotation=90,
             ha="center", va="center", fontsize=14.5)
    fig.text(xlab[0] / W, 1 - xlab[1] / H, "Unit Time : 0.01sec",
             ha="center", va="center", fontsize=14.5)
    fig.text(ttl[0] / W, 1 - ttl[1] / H, f"{proc} Msg Bytes",
             ha="center", va="center", fontsize=16.5,
             family=["Liberation Serif", "DejaVu Serif"])

fig.savefig("out.png", dpi=100)
